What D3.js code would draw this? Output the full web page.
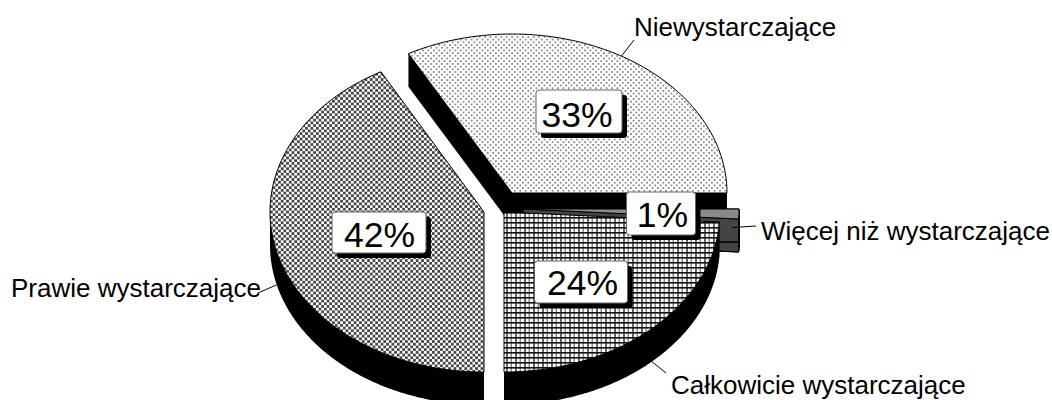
<!DOCTYPE html>
<html><head><meta charset="utf-8">
<script src="https://cdn.jsdelivr.net/npm/d3@7/dist/d3.min.js"></script>
<style>html,body{margin:0;padding:0;background:#fff}svg{display:block}text{font-family:"Liberation Sans",Arial,sans-serif;fill:#000}</style>
</head><body><svg id="c" width="1052" height="400"></svg>
<script>
// Data
const categories = ["Niewystarczające","Więcej niż wystarczające","Całkowicie wystarczające","Prawie wystarczające"];
const values = [33,1,24,42];
const percentLabels = values.map(v => v + "%");
// Layout (exploded 3D pie)
const centersX = [512,523,504,484];
const centersY = [193,209,212,212];
const radiusX = [215,216,216,214];
const radiusY = [159,160,160,160];
const depth = 33;
const boxCX = [579,661,581,379], boxCY = [111.5,213.5,282,232.5], boxW = [86,69,93,94], boxH = [43,43,42,41];
const textDX = [-2,1.5,1.5,0.5], textDY = [15.5,13.5,13,14.5];
const nameX = [634,761,671,11], nameY = [35.5,240,394,297];
const leaderDepth = [0,0.5,1,1], leaderInset=[1,0.97,1,1];
const leaderEndX = [634,756,666,258], leaderEndY = [40,226,373,293];
const topFill = ["url(#pDots)","#8a8a8a","url(#pGrid)","url(#pCheck)"];
const wallFill = ["#000","#444","#000","#000"];

const svg = d3.select("#c");
const defs = svg.append("defs");
// patterns
const pd = defs.append("pattern").attr("id","pDots").attr("patternUnits","userSpaceOnUse").attr("width",5.4).attr("height",5.4);
pd.append("rect").attr("width",5.4).attr("height",5.4).attr("fill","#fff");
[[0.9,0.9],[3.6,3.6]].forEach(p=>pd.append("rect").attr("x",p[0]).attr("y",p[1]).attr("width",1.8).attr("height",1.8).attr("fill","#8c8c8c"));
const pc = defs.append("pattern").attr("id","pCheck").attr("patternUnits","userSpaceOnUse").attr("width",5.4).attr("height",5.4);
pc.append("rect").attr("width",5.4).attr("height",5.4).attr("fill","#fff");
[[0,0],[2.7,2.7]].forEach(p=>pc.append("rect").attr("x",p[0]).attr("y",p[1]).attr("width",2.7).attr("height",2.7).attr("fill","#444"));
const pg = defs.append("pattern").attr("id","pGrid").attr("patternUnits","userSpaceOnUse").attr("width",9).attr("height",5);
pg.append("rect").attr("width",9).attr("height",5).attr("fill","#fff");
pg.append("rect").attr("x",2).attr("width",2).attr("height",5).attr("fill","#666");
pg.append("rect").attr("x",6.5).attr("width",1.5).attr("height",5).attr("fill","#888");
pg.append("rect").attr("y",2).attr("width",9).attr("height",1.6).attr("fill","#111");

const slices = d3.pie().value(d=>d).sort(null)
  .startAngle(-28.8*Math.PI/180).endAngle(331.2*Math.PI/180)(values);

const geo = slices.map((s,i)=>{
  const sx = d3.scaleLinear().domain([0,1]).range([centersX[i],centersX[i]+radiusX[i]]);
  const sy = d3.scaleLinear().domain([0,1]).range([centersY[i],centersY[i]+radiusY[i]]);
  const pt = a => [sx(Math.sin(a)), sy(-Math.cos(a))];
  const n = Math.max(4,Math.ceil((s.endAngle-s.startAngle)/0.01));
  const rim = d3.range(n+1).map(k=>pt(s.startAngle+(s.endAngle-s.startAngle)*k/n));
  return {i,s,pt,rim,apex:[sx(0),sy(0)],poly:[[sx(0),sy(0)],...rim]};
});

const line = d3.line();
function wallPath(poly){
  let d = line(poly.map(p=>[p[0],p[1]+depth]))+"Z";
  poly.forEach((p,k)=>{
    const q = poly[(k+1)%poly.length];
    let quad = [p,q,[q[0],q[1]+depth],[p[0],p[1]+depth]];
    if(d3.polygonArea(quad)<0) quad.reverse();
    d += line(quad)+"Z";
  });
  return d;
}
const g = svg.selectAll("g.slice").data(geo).join("g").attr("class","slice");
g.append("path").attr("d",d=>{
    const ring = d3.polygonArea(d.poly)<0 ? d.poly.slice().reverse() : d.poly;
    return wallPath(ring);
  }).attr("fill",d=>wallFill[d.i]).attr("fill-rule","nonzero")
  .attr("stroke",d=>d.i===1?"#000":"none").attr("stroke-width",1);
g.append("path").attr("d",d=>line(d.poly)+"Z")
  .attr("fill",d=>topFill[d.i]).attr("stroke","#000").attr("stroke-width",1).attr("stroke-linejoin","miter");

// leaders
svg.selectAll("line.leader").data(geo).join("line").attr("class","leader")
  .attr("x1",d=>{const a=(d.s.startAngle+d.s.endAngle)/2;return centersX[d.i]+(d.pt(a)[0]-centersX[d.i])*leaderInset[d.i];})
  .attr("y1",d=>{const a=(d.s.startAngle+d.s.endAngle)/2;return d.pt(a)[1]+depth*leaderDepth[d.i]-(d.i===1?3:0);})
  .attr("x2",d=>leaderEndX[d.i]).attr("y2",d=>leaderEndY[d.i])
  .attr("stroke","#000").attr("stroke-width",1);

// names
svg.selectAll("text.name").data(categories).join("text").attr("class","name")
  .attr("x",(d,i)=>nameX[i]).attr("y",(d,i)=>nameY[i]).attr("font-size",26).text(d=>d);

// percent boxes
const b = svg.selectAll("g.box").data(percentLabels).join("g").attr("class","box");
b.append("rect").attr("x",(d,i)=>boxCX[i]-boxW[i]/2+5).attr("y",(d,i)=>boxCY[i]-boxH[i]/2+5)
  .attr("width",(d,i)=>boxW[i]).attr("height",(d,i)=>boxH[i]).attr("rx",3).attr("fill","#000");
b.append("rect").attr("x",(d,i)=>boxCX[i]-boxW[i]/2).attr("y",(d,i)=>boxCY[i]-boxH[i]/2)
  .attr("width",(d,i)=>boxW[i]).attr("height",(d,i)=>boxH[i]).attr("rx",3)
  .attr("fill","#fff").attr("stroke","#666").attr("stroke-width",1);
b.append("text").attr("x",(d,i)=>boxCX[i]+textDX[i]).attr("y",(d,i)=>boxCY[i]+textDY[i])
  .attr("text-anchor","middle").attr("font-size",35.5).text(d=>d);
</script></body></html>
